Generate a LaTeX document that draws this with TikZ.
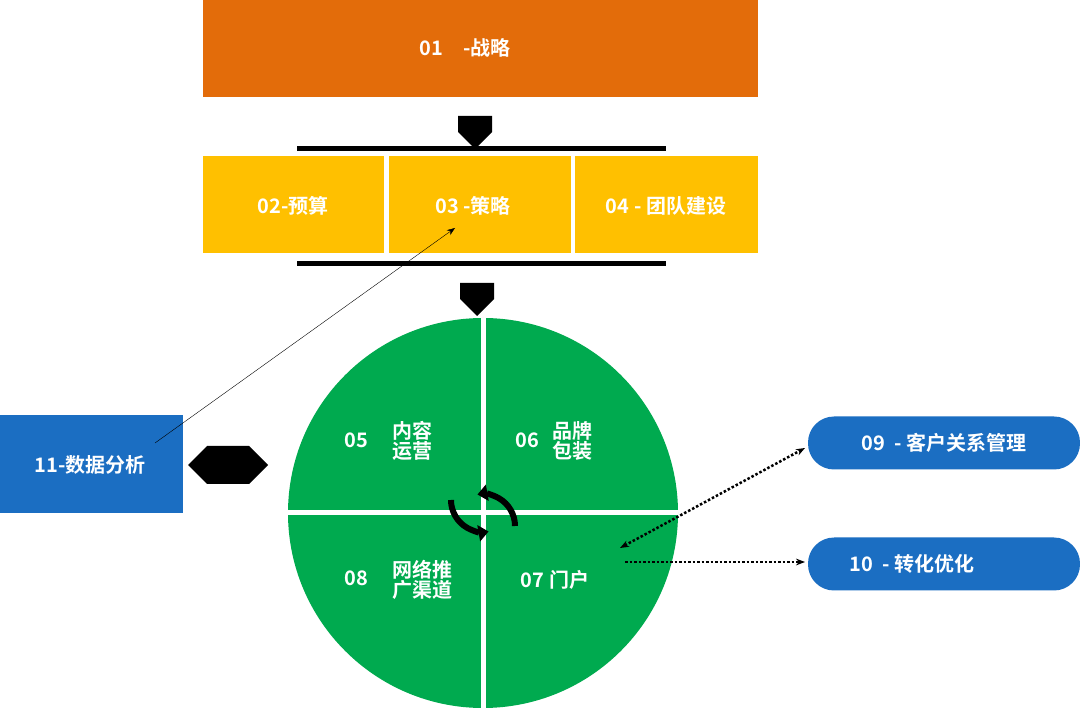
\documentclass[tikz,border=0pt]{standalone}
\usepackage{fontspec}
\setmainfont{Noto Sans CJK SC}[BoldFont={Noto Sans CJK SC Bold}]
\usetikzlibrary{arrows.meta,shapes.arrows}
\definecolor{org}{HTML}{E36C0A}
\definecolor{yel}{HTML}{FFC000}
\definecolor{grn}{HTML}{00AA4F}
\definecolor{blu}{HTML}{1B6EC2}
\begin{document}
\begin{tikzpicture}[x=1pt,y=-1pt,
 lbl/.style={text=white,font=\bfseries\fontsize{20}{24}\selectfont,align=center},
 box/.style={inner sep=0,outer sep=0},
 pill/.style={fill=blu,rounded corners=26pt,minimum width=272pt,minimum height=53pt,inner sep=0},
 darr/.style={single arrow,fill=black,minimum height=33pt,minimum width=34pt,single arrow head extend=0pt,inner sep=0,shape border rotate=270}]
\useasboundingbox (0,0) rectangle (1080,708);
\fill[white] (0,0) rectangle (1080,708);
\fill[org] (203,0) rectangle (758,97);
\node[lbl] (s1) at (465,48) {01\quad -战略};
\node[darr] (a1) at (475,124) {};
\draw[line width=5pt] (297,149) coordinate (b1l) -- (666,149) coordinate (b1r);
\fill[yel] (203,156) rectangle (384,253);
\fill[yel] (389,156) rectangle (571,253);
\fill[yel] (575,156) rectangle (758,253);
\node[lbl] (s2) at (293,206) {02-预算};
\node[lbl] (s3) at (473,206) {03 -策略};
\node[lbl] (s4) at (666,206) {04 - 团队建设};
\coordinate (s3t) at (455,228);
\draw[line width=5pt] (297,264) coordinate (b2l) -- (666,264) coordinate (b2r);
\node[darr] (a2) at (477,291) {};
\fill[grn] (483,513) circle (195);
\draw[white,line width=5pt] (483,318) -- (483,708) (288,513) -- (678,513);
\node[lbl] at (356,440) {05};
\node[lbl] at (412,441) {内容\\[-4pt]运营};
\node[lbl] at (527,440) {06};
\node[lbl] at (572,441) {品牌\\[-4pt]包装};
\node[lbl] at (356,578) {08};
\node[lbl] at (422,580) {网络推\\[-4pt]广渠道};
\node[lbl] (s7) at (555,580) {07\ 门户};
\draw[line width=6pt,-{Triangle[length=10pt,width=16pt]}] (451,500) arc (180:80:32);
\draw[line width=6pt,-{Triangle[length=10pt,width=16pt]}] (515,526) arc (0:-100:32);
\fill[blu] (0,415) rectangle (183,513);
\node[lbl] (s11) at (90,465) {11-数据分析};
\node[single arrow,double arrow,fill=black,minimum height=80pt,minimum width=38pt,inner sep=3pt,double arrow head extend=0pt] (da) at (228,465) {};
\coordinate (l0) at (155,443);
\draw[-{Stealth[length=8pt]},thin] (l0) -- (s3t);
\node[pill] (p9) at (944,443) {};
\node[lbl] at (p9) {09\ \ - 客户关系管理};
\node[pill] (p10) at (944,564) {};
\node[lbl] at (912,564) {10\ \ - 转化优化};
\coordinate (d1) at (620,548);
\coordinate (d2) at (805,448);
\coordinate (d3) at (625,562);
\coordinate (d4) at (805,562);
\draw[line width=2.5pt,dotted,{Stealth[length=9pt]}-{Stealth[length=9pt]}] (d1) -- (d2);
\draw[line width=2.5pt,dotted,-{Stealth[length=9pt]}] (d3) -- (d4);
\end{tikzpicture}
\end{document}
